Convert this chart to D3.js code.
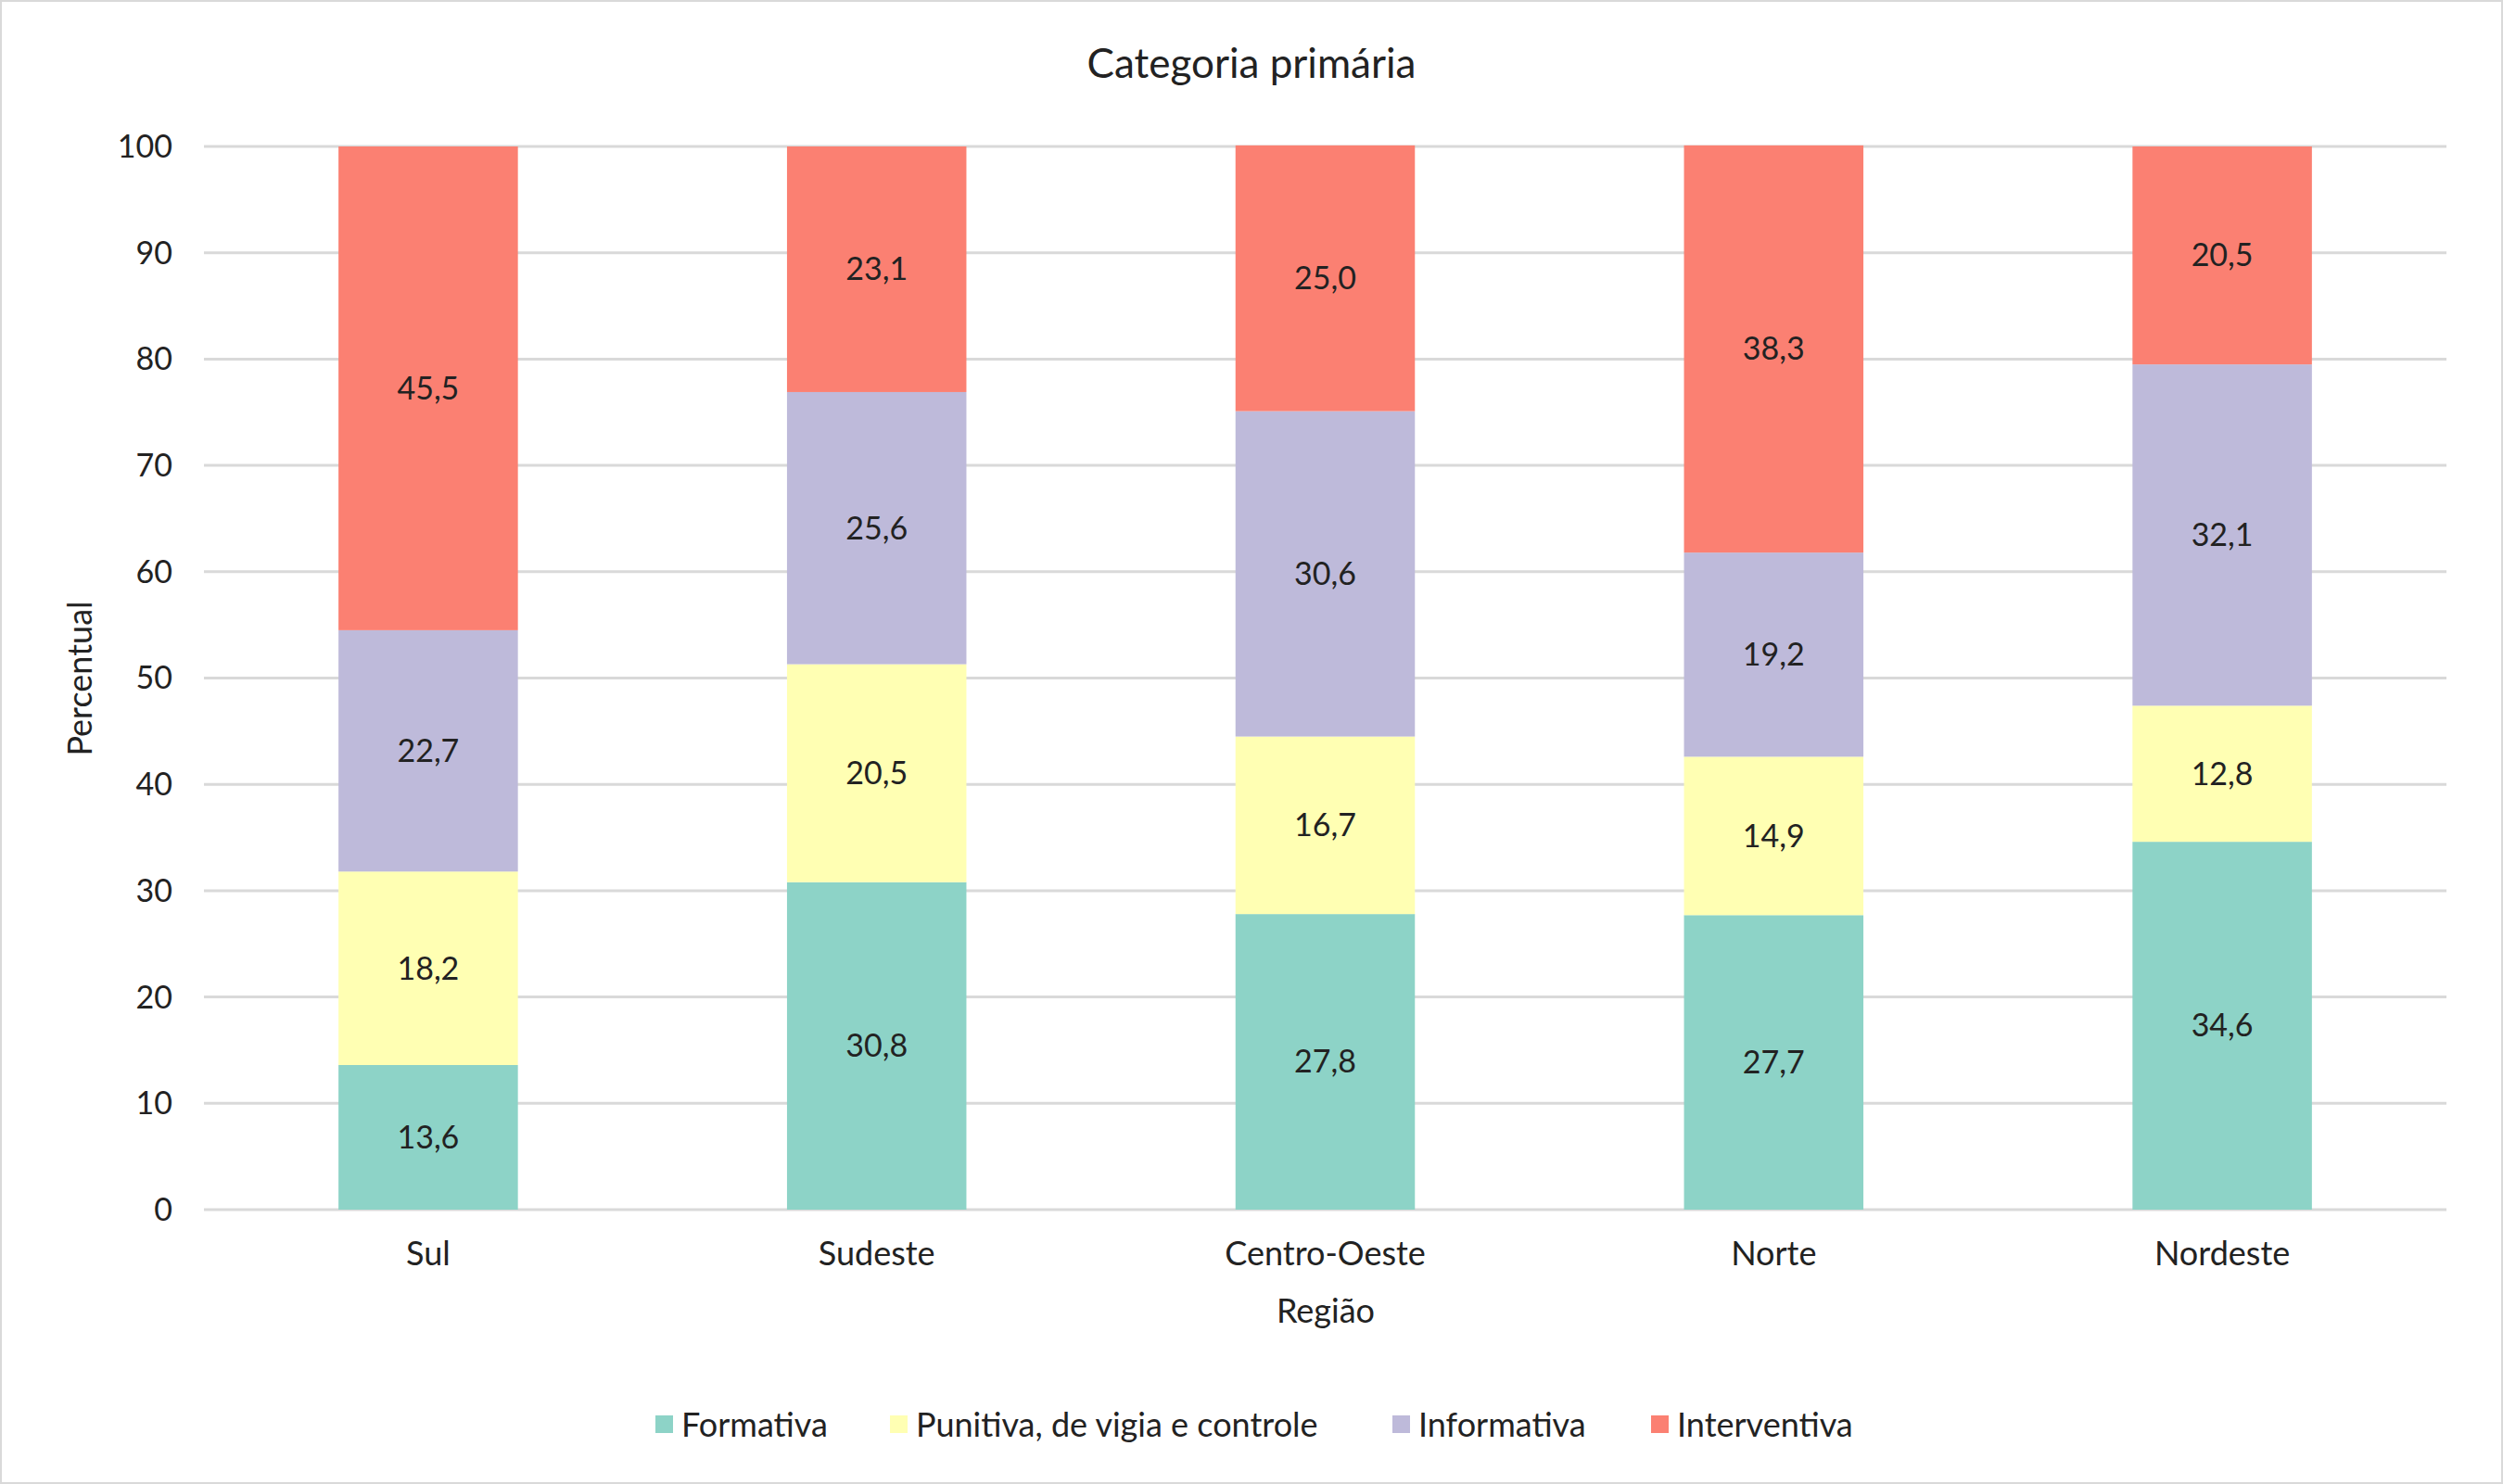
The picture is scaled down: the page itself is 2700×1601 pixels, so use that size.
<!DOCTYPE html>
<html><head><meta charset="utf-8">
<script src="https://cdn.jsdelivr.net/npm/d3@7"></script>
<style>body{margin:0;background:#fff}svg{font-family:Lato,"Open Sans",sans-serif}</style>
</head><body><svg id="c" width="2700" height="1601"></svg>
<script>
const categories=["Sul","Sudeste","Centro-Oeste","Norte","Nordeste"];
const seriesNames=["Formativa","Punitiva, de vigia e controle","Informativa","Interventiva"];
const formativa=[13.6,30.8,27.8,27.7,34.6];
const punitiva=[18.2,20.5,16.7,14.9,12.8];
const informativa=[22.7,25.6,30.6,19.2,32.1];
const interventiva=[45.5,23.1,25.0,38.3,20.5];
const colors=["#8dd3c7","#ffffb3","#bebada","#fb8072"];
const yTicks=[0,10,20,30,40,50,60,70,80,90,100];

const svg=d3.select("#c");
svg.append("rect").attr("x",1).attr("y",1).attr("width",2698).attr("height",1599).attr("fill","#fff").attr("stroke","#d9d9d9").attr("stroke-width",2);
const x=d3.scaleBand().domain(categories).range([220,2639]).paddingInner(0.6).paddingOuter(0.3);
const y=d3.scaleLinear().domain([0,100]).range([1305,158]);
const g=svg.append("g");
yTicks.forEach(t=>{g.append("line").attr("x1",220).attr("x2",2639).attr("y1",y(t)).attr("y2",y(t)).attr("stroke","#d9d9d9").attr("stroke-width",3);
 g.append("text").attr("x",186).attr("y",y(t)).attr("dy","0.35em").attr("text-anchor","end").attr("font-size",34).attr("fill","#222").text(t);});
const all=[formativa,punitiva,informativa,interventiva];
categories.forEach((c,i)=>{let base=0;all.forEach((s,k)=>{const v=s[i];
 g.append("rect").attr("x",x(c)).attr("width",x.bandwidth()).attr("y",y(base+v)).attr("height",y(base)-y(base+v)).attr("fill",colors[k]);
 g.append("text").attr("x",x(c)+x.bandwidth()/2).attr("y",y(base+v/2)).attr("dy","0.35em").attr("text-anchor","middle").attr("font-size",34).attr("fill","#222").text(v.toFixed(1).replace(".",","));
 base+=v;});
 g.append("text").attr("x",x(c)+x.bandwidth()/2).attr("y",1352).attr("dy","0.35em").attr("text-anchor","middle").attr("font-size",36).attr("fill","#222").text(c);});
svg.append("text").attr("x",1350).attr("y",69).attr("dy","0.35em").attr("text-anchor","middle").attr("font-size",44).attr("fill","#222").text("Categoria primária");
svg.append("text").attr("x",1430).attr("y",1414).attr("dy","0.35em").attr("text-anchor","middle").attr("font-size",36).attr("fill","#222").text("Região");
svg.append("text").attr("transform","translate(86,732) rotate(-90)").attr("dy","0.35em").attr("text-anchor","middle").attr("font-size",36).attr("fill","#222").text("Percentual");
const lx=[707,960,1502,1781];
seriesNames.forEach((n,k)=>{svg.append("rect").attr("x",lx[k]).attr("y",1527).attr("width",19).attr("height",19).attr("fill",colors[k]);
 svg.append("text").attr("x",lx[k]+28).attr("y",1537).attr("dy","0.35em").attr("font-size",36).attr("fill","#222").text(n);});
</script></body></html>
